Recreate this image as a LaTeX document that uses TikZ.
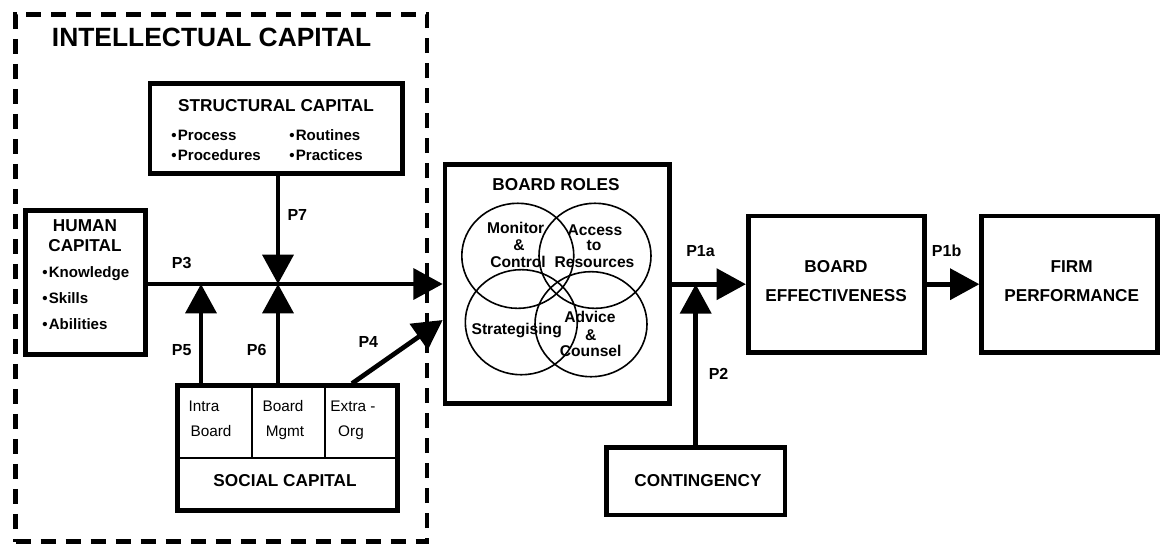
\documentclass[tikz,border=0pt]{standalone}
\usepackage{fontspec}
\setmainfont{Liberation Sans}
\usetikzlibrary{arrows.meta}
\begin{document}
\begin{tikzpicture}[x=0.75pt,y=-0.75pt,
  box/.style={draw,line width=3.5pt,rectangle,inner sep=0pt},
  group/.style={draw,line width=3.5pt,rectangle,inner sep=0pt,dash pattern=on 11.25pt off 7.5pt},
  conn/.style={line width=3.5pt,-{Triangle[length=22pt,width=23pt]}},
  ring/.style={line width=1.2pt},
  inner/.style={line width=1.5pt},
  ttl/.style={font=\bfseries\fontsize{12.9}{15}\selectfont,inner sep=0pt,anchor=base},
  itm/.style={font=\bfseries\fontsize{11.3}{13}\selectfont,inner sep=0pt,anchor=base west},
  cir/.style={font=\bfseries\fontsize{11.7}{13}\selectfont,inner sep=0pt,anchor=base},
  cell/.style={font=\fontsize{11.5}{13}\selectfont,inner sep=0pt,anchor=base},
  plab/.style={font=\bfseries\fontsize{12}{14}\selectfont,inner sep=0pt,anchor=base west}
]
\useasboundingbox (0,0) rectangle (1160,551);

% group frame
\node[group,minimum width=308.6pt,minimum height=395.6pt] (ic) at (221.25,277.95) {};
\node[ttl,anchor=base west,font=\bfseries\fontsize{19.8}{22}\selectfont] (ictitle) at (51.7,46.7) {INTELLECTUAL CAPITAL};

% boxes
\node[box,minimum width=189.4pt,minimum height=67.5pt] (struct) at (276.25,128.5) {};
\node[box,minimum width=89.8pt,minimum height=108.2pt] (human) at (85.6,282.6) {};
\node[box,minimum width=165.2pt,minimum height=93.3pt] (social) at (287.6,448) {};
\node[box,minimum width=168.4pt,minimum height=179.7pt] (roles) at (557.3,284) {};
\node[box,minimum width=132.2pt,minimum height=102.5pt] (eff) at (836.4,284.2) {};
\node[box,minimum width=132pt,minimum height=102.5pt] (firm) at (1069.7,284.2) {};
\node[box,minimum width=133.7pt,minimum height=50.5pt] (cont) at (695.7,481.2) {};

% structural capital text
\node[ttl] (sttl) at (276,111.7) {STRUCTURAL CAPITAL};
\node[itm] (s1) at (171,140) {•\hspace{1pt}Process};
\node[itm] (s2) at (171,160.7) {•\hspace{1pt}Procedures};
\node[itm] (s3) at (289,140) {•\hspace{1pt}Routines};
\node[itm] (s4) at (289,160.7) {•\hspace{1pt}Practices};

% human capital text
\node[ttl] (h1) at (85,231.7) {HUMAN};
\node[ttl] (h2) at (85,251.7) {CAPITAL};
\node[itm] (h3) at (42,277.3) {•\hspace{1pt}Knowledge};
\node[itm] (h4) at (42,303.3) {•\hspace{1pt}Skills};
\node[itm] (h5) at (42,329.3) {•\hspace{1pt}Abilities};

% social capital cells
\draw[inner] (251.7,385.8) -- (251.7,457.7);
\draw[inner] (325,385.8) -- (325,457.7);
\draw[inner] (177.5,457.7) -- (397.8,457.7);
\node[cell] (c1a) at (204,411.7) {Intra};
\node[cell] (c1b) at (211,436.7) {Board};
\node[cell] (c2a) at (283,411.7) {Board};
\node[cell] (c2b) at (285,436.7) {Mgmt};
\node[cell] (c3a) at (353,411.7) {Extra -};
\node[cell] (c3b) at (351,436.7) {Org};
\node[ttl] (sott) at (285,486) {SOCIAL CAPITAL};

% board roles
\node[ttl] (rttl) at (556,190) {BOARD ROLES};
\draw[ring] (517.8,255.8) ellipse [x radius=42pt,y radius=39.4pt];
\draw[ring] (595,255.8) ellipse [x radius=42pt,y radius=39.4pt];
\draw[ring] (521.3,322.2) ellipse [x radius=42pt,y radius=39.4pt];
\draw[ring] (591,324.2) ellipse [x radius=42pt,y radius=39.4pt];
\node[cir] (m1) at (515.7,233.3) {Monitor};
\node[cir] (m2) at (519,250) {\&};
\node[cir] (m3) at (518,267.3) {Control};
\node[cir] (a1) at (595,235) {Access};
\node[cir] (a2) at (594,250) {to};
\node[cir] (a3) at (594.5,267) {Resources};
\node[cir] (st) at (516.7,334) {Strategising};
\node[cir] (d1) at (590,322.7) {Advice};
\node[cir] (d2) at (590.8,340) {\&};
\node[cir] (d3) at (590.7,356.7) {Counsel};

% other box texts
\node[ttl] (e1) at (836,272.5) {BOARD};
\node[ttl] (e2) at (836,301.7) {EFFECTIVENESS};
\node[ttl] (f1) at (1071.7,272.5) {FIRM};
\node[ttl] (f2) at (1071.7,301.7) {PERFORMANCE};
\node[ttl] (ct) at (698,486.7) {CONTINGENCY};

% connectors
\coordinate (j5) at (201,0 |- roles.west);
\coordinate (j6) at (278,0 |- roles.west);
\coordinate (p4a) at (352,0);
\coordinate (p4b) at (0,320);
\draw[conn] (human.east |- roles.west) -- (roles.west);
\draw[conn] (social.north -| j5) -- (j5);
\draw[conn] (social.north -| j6) -- (j6);
\draw[conn] (struct.south -| j6) -- (j6);
\draw[conn] (social.north -| p4a) -- (roles.west |- p4b);
\draw[conn] (roles.east |- eff.west) -- (eff.west);
\draw[conn] (cont.north) -- (cont.north |- eff.west);
\draw[conn] (eff.east) -- (firm.west);

% connector labels
\node[plab] (l7) at (287.3,220.7) {P7};
\node[plab] (l3) at (171.7,268.3) {P3};
\node[plab] (l5) at (171.7,355) {P5};
\node[plab] (l6) at (246.7,355) {P6};
\node[plab] (l4) at (358.3,347) {P4};
\node[plab] (l1a) at (686,256.7) {P1a};
\node[plab] (l2) at (708.5,379) {P2};
\node[plab] (l1b) at (931.7,256) {P1b};
\end{tikzpicture}
\end{document}
